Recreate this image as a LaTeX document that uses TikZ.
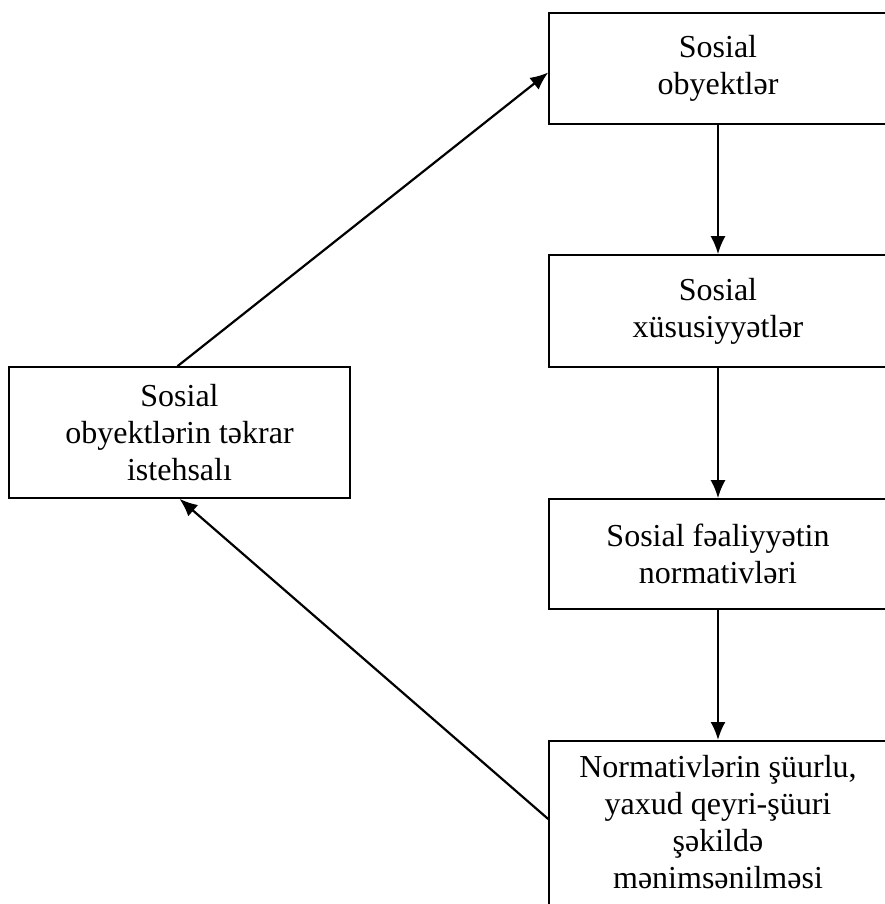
\documentclass[tikz,border=0pt]{standalone}
\usepackage{fontspec}
\setmainfont{Liberation Serif}
\usetikzlibrary{arrows.meta}
\begin{document}
\begin{tikzpicture}[x=1pt,y=-1pt,
  box/.style={draw,line width=1.6pt,align=center,inner sep=0pt,
    font=\fontsize{32}{37}\selectfont},
  arr/.style={line width=2.2pt,-{Latex[length=18pt,width=15pt]}}]
\useasboundingbox (0,0) rectangle (885,904);
\node[box,minimum width=338pt,minimum height=111pt] (b1) at (718,68.5) {Sosial\\obyektlər};
\node[box,minimum width=338pt,minimum height=112pt] (b2) at (718,311) {Sosial\\xüsusiyyətlər};
\node[box,minimum width=338pt,minimum height=110pt] (b3) at (718,554) {Sosial fəaliyyətin\\normativləri};
\node[box,minimum width=338pt,minimum height=220pt,anchor=north] (b4) at (718,740) {};
\node[align=center,anchor=north,inner sep=0pt,font=\fontsize{32}{37}\selectfont] (t4) at (718,755) {Normativlərin şüurlu,\\yaxud qeyri-şüuri\\şəkildə\\mənimsənilməsi};
\node[box,minimum width=341pt,minimum height=131pt] (l) at (179.5,432.5) {Sosial\\obyektlərin təkrar\\istehsalı};
\draw[arr] (b1) -- (b2);
\draw[arr] (b2) -- (b3);
\draw[arr] (b3.south) -- (b4.north);
\draw[arr] ([xshift=-2pt]l.north) -- ([yshift=-4pt]b1.west);
\draw[arr] ([yshift=-79pt]b4.north west) -- (l.south);
\end{tikzpicture}
\end{document}
